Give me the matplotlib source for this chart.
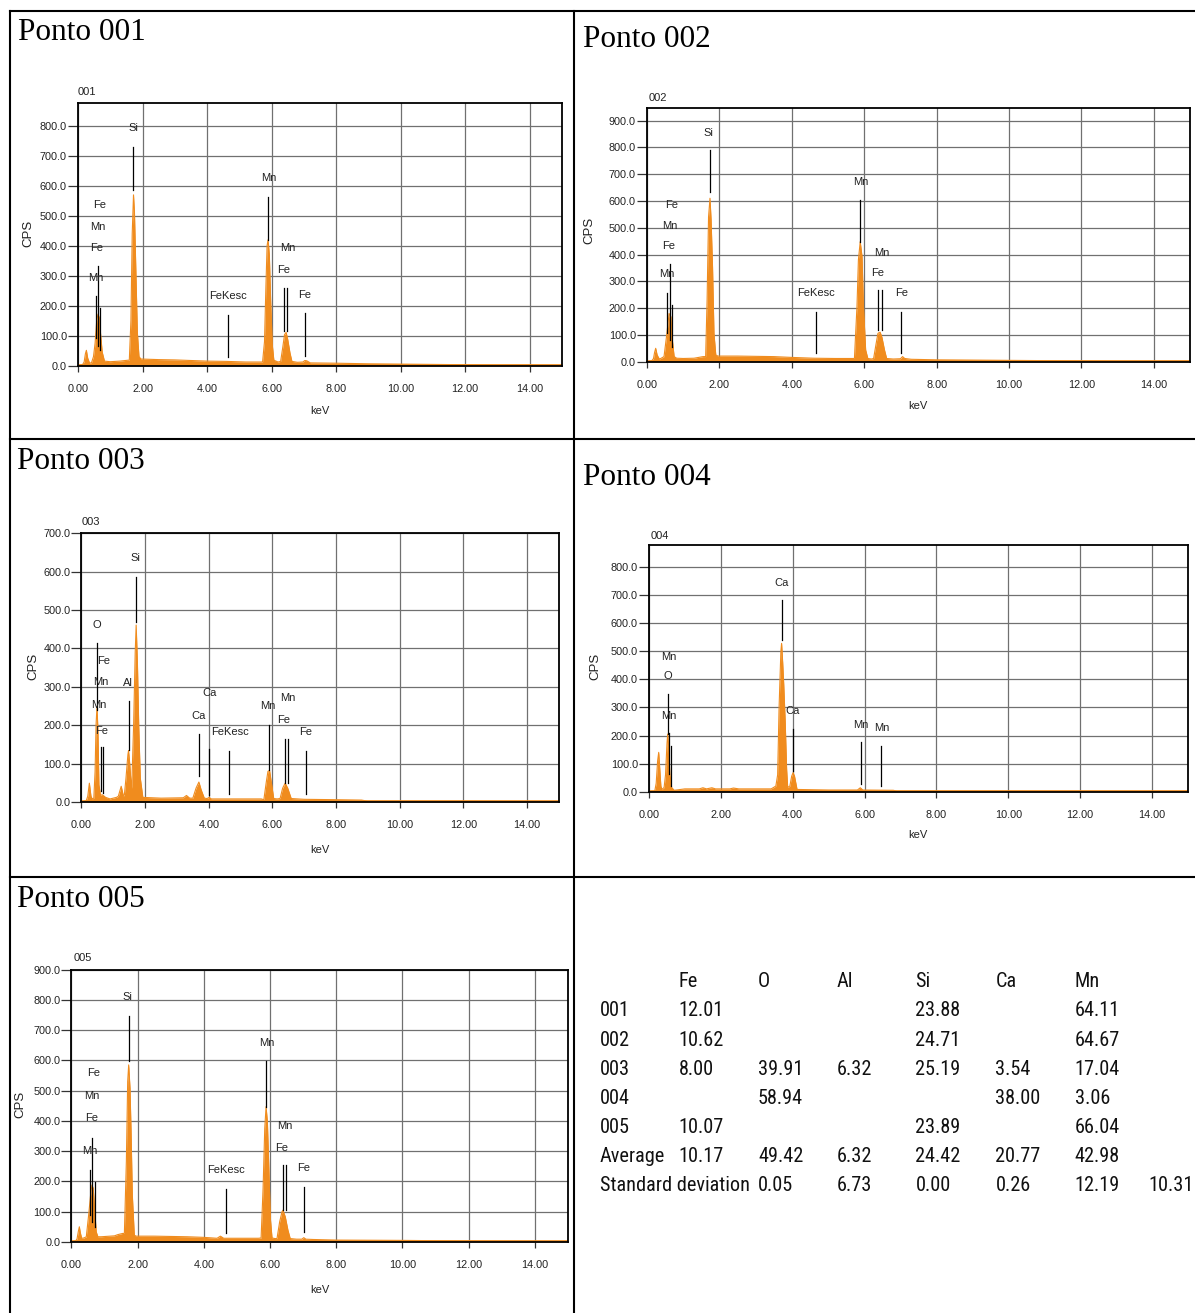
import numpy as np
import matplotlib
matplotlib.use("Agg")
import matplotlib.pyplot as plt
from matplotlib import font_manager
from matplotlib.lines import Line2D

W, H = 1195, 1313

# EDS spectra, traced as (keV, CPS) outline points
kev_001 = [0.00, 0.14, 0.19, 0.23, 0.26, 0.30, 0.36, 0.42, 0.48, 0.53, 0.58, 0.62, 0.66, 0.70,
           0.75, 0.82, 1.00, 1.30, 1.55, 1.59, 1.64, 1.68, 1.72, 1.75, 1.79, 1.84, 1.89, 1.95,
           2.50, 3.00, 3.50, 4.00, 4.60, 5.20, 5.65, 5.72, 5.78, 5.82, 5.86, 5.89, 5.93, 5.97,
           6.02, 6.07, 6.20, 6.28, 6.35, 6.40, 6.45, 6.50, 6.57, 6.63, 6.80, 6.97, 7.03, 7.09,
           7.20, 8.00, 9.00, 10.00, 11.00, 12.00, 13.00, 14.00, 15.00]
cps_001 = [0, 3, 12, 40, 51, 25, 8, 10, 30, 75, 150, 172, 160, 105,
           45, 15, 13, 15, 18, 18, 150, 440, 570, 510, 330, 110, 30, 22,
           20, 19, 17, 15, 14, 12, 12, 12, 80, 250, 400, 420, 370, 220,
           70, 18, 12, 14, 64, 103, 111, 87, 42, 14, 11, 12, 17, 16,
           9, 8, 6, 5, 4, 3, 2, 2, 1]

kev_002 = [0.00, 0.13, 0.18, 0.21, 0.24, 0.28, 0.34, 0.38, 0.47, 0.55, 0.61, 0.66, 0.70, 0.75,
           0.82, 1.00, 1.30, 1.55, 1.62, 1.66, 1.70, 1.74, 1.77, 1.81, 1.85, 1.90, 1.96, 2.50,
           3.00, 3.50, 4.00, 4.60, 5.20, 5.65, 5.73, 5.80, 5.84, 5.89, 5.94, 5.98, 6.04, 6.10,
           6.20, 6.26, 6.33, 6.38, 6.44, 6.49, 6.56, 6.62, 6.80, 7.00, 7.06, 7.12, 7.30, 8.00,
           9.00, 10.00, 11.00, 12.00, 13.00, 14.00, 15.00]
cps_002 = [0, 3, 12, 35, 50, 25, 10, 12, 19, 106, 180, 168, 81, 19,
           13, 12, 13, 19, 19, 230, 540, 610, 530, 355, 106, 25, 21, 21,
           20, 19, 16, 13, 12, 12, 12, 205, 380, 448, 392, 205, 44, 12,
           10, 12, 68, 106, 110, 91, 44, 12, 10, 11, 19, 12, 9, 7,
           6, 5, 4, 3, 2, 2, 2]

kev_003 = [0.00, 0.15, 0.20, 0.25, 0.30, 0.34, 0.39, 0.43, 0.46, 0.49, 0.52, 0.55, 0.60, 0.65,
           0.70, 0.76, 0.90, 1.10, 1.16, 1.25, 1.32, 1.35, 1.40, 1.46, 1.48, 1.52, 1.56, 1.58,
           1.64, 1.69, 1.72, 1.76, 1.80, 1.85, 1.93, 2.50, 3.20, 3.30, 3.40, 3.50, 3.60, 3.69,
           3.76, 3.86, 3.95, 4.01, 4.08, 5.00, 5.65, 5.73, 5.81, 5.86, 5.91, 5.96, 6.04, 6.15,
           6.24, 6.32, 6.40, 6.48, 6.59, 7.00, 8.00, 8.80, 9.00, 12.00, 15.00]
cps_003 = [0, 3, 15, 49, 15, 8, 10, 80, 201, 249, 184, 45, 17, 19,
           16, 12, 8, 12, 15, 41, 15, 19, 62, 123, 134, 97, 45, 36,
           200, 390, 461, 360, 200, 62, 12, 10, 11, 17, 10, 10, 36, 52,
           32, 10, 9, 12, 8, 8, 8, 6, 54, 80, 82, 54, 9, 8,
           9, 36, 49, 36, 9, 7, 6, 5, 2, 2, 1]

kev_004 = [0.00, 0.16, 0.20, 0.24, 0.27, 0.30, 0.33, 0.36, 0.42, 0.46, 0.50, 0.52, 0.55, 0.58,
           0.63, 0.70, 1.00, 1.40, 1.50, 1.60, 1.75, 1.85, 2.00, 2.25, 2.35, 2.50, 3.40, 3.53,
           3.58, 3.62, 3.67, 3.69, 3.72, 3.75, 3.79, 3.83, 3.86, 3.92, 3.97, 4.01, 4.05, 4.12,
           5.00, 5.80, 5.88, 5.95, 6.80, 6.90, 8.00, 15.00]
cps_004 = [0, 2, 30, 110, 140, 80, 20, 8, 15, 60, 170, 205, 150, 62,
           15, 5, 10, 10, 14, 10, 14, 10, 10, 10, 13, 10, 10, 20,
           60, 300, 500, 528, 460, 380, 250, 80, 15, 20, 55, 68, 55, 8,
           6, 6, 14, 6, 5, 2, 2, 1]

kev_005 = [0.00, 0.13, 0.17, 0.21, 0.24, 0.27, 0.31, 0.38, 0.45, 0.52, 0.58, 0.62, 0.66, 0.70,
           0.75, 0.80, 0.90, 1.30, 1.40, 1.55, 1.60, 1.66, 1.70, 1.73, 1.77, 1.80, 1.84, 1.90,
           1.96, 2.50, 3.00, 3.50, 4.00, 4.40, 4.50, 4.60, 5.20, 5.65, 5.73, 5.79, 5.84, 5.88,
           5.92, 5.97, 6.01, 6.06, 6.15, 6.21, 6.29, 6.36, 6.39, 6.46, 6.54, 6.61, 6.80, 6.96,
           7.02, 7.08, 7.30, 8.00, 10.00, 12.00, 14.00, 15.00]
cps_005 = [0, 3, 10, 35, 50, 30, 12, 13, 17, 88, 155, 188, 177, 110,
           33, 17, 17, 20, 24, 28, 28, 265, 530, 585, 508, 375, 155, 22,
           19, 19, 18, 17, 15, 12, 19, 12, 12, 12, 13, 177, 375, 447,
           397, 221, 77, 13, 11, 11, 66, 99, 105, 83, 39, 11, 9, 9,
           14, 9, 8, 6, 5, 3, 2, 1]

# element marker lines: (keV, bottom CPS, top CPS)
lines_001 = [(1.72, 587, 731), (5.89, 420, 564), (6.38, 114, 259), (6.47, 114, 259),
             (7.05, 33, 176), (4.65, 29, 170), (0.56, 92, 231), (0.62, 64, 331), (0.68, 53, 192)]
lines_002 = [(1.74, 635, 791), (5.89, 448, 604), (6.38, 118, 268), (6.48, 118, 268),
             (7.03, 31, 187), (4.66, 31, 187), (0.56, 106, 258), (0.64, 81, 365), (0.70, 56, 212)]
lines_003 = [(1.72, 470, 585), (0.49, 240, 414), (0.62, 28, 142), (0.68, 23, 142),
             (1.48, 136, 262), (3.68, 67, 178), (4.00, 19, 139), (4.65, 21, 134),
             (5.90, 84, 201), (6.38, 49, 165), (6.48, 49, 165), (7.04, 21, 134)]
lines_004 = [(3.69, 540, 683), (4.01, 74, 223), (0.52, 205, 346), (0.55, 62, 208),
             (0.62, 20, 164), (5.89, 26, 176), (6.47, 20, 164)]
lines_005 = [(1.73, 598, 748), (5.89, 447, 598), (6.38, 105, 254), (6.48, 105, 254),
             (7.03, 33, 180), (4.66, 28, 174), (0.56, 88, 237), (0.62, 66, 344), (0.70, 50, 199)]

# element labels: (text, keV, CPS)
labels_001 = [("Si", 1.72, 792), ("Mn", 5.90, 625), ("Mn", 6.50, 392), ("Fe", 6.37, 320),
              ("Fe", 7.02, 237), ("FeKesc", 4.65, 231), ("Fe", 0.67, 537), ("Mn", 0.62, 464),
              ("Fe", 0.59, 392), ("Mn", 0.54, 292)]
labels_002 = [("Si", 1.71, 855), ("Mn", 5.90, 670), ("Mn", 6.48, 407), ("Fe", 6.37, 330),
              ("Fe", 7.03, 255), ("FeKesc", 4.66, 255), ("Fe", 0.68, 585), ("Mn", 0.64, 508),
              ("Fe", 0.61, 432), ("Mn", 0.56, 326)]
labels_003 = [("Si", 1.70, 635), ("O", 0.49, 461), ("Fe", 0.70, 368), ("Mn", 0.62, 312),
              ("Mn", 0.54, 253), ("Fe", 0.62, 186), ("Al", 1.46, 310), ("Ca", 3.68, 225),
              ("Ca", 4.02, 284), ("FeKesc", 4.66, 182), ("Mn", 5.85, 249), ("Mn", 6.49, 271),
              ("Fe", 6.36, 214), ("Fe", 7.03, 182)]
labels_004 = [("Ca", 3.69, 743), ("Ca", 3.99, 287), ("O", 0.52, 411), ("Mn", 0.56, 480),
              ("Mn", 0.55, 271), ("Mn", 5.89, 239), ("Mn", 6.49, 227)]
labels_005 = [("Si", 1.70, 811), ("Mn", 5.89, 657), ("Mn", 6.46, 384), ("Fe", 6.36, 311),
              ("Fe", 7.02, 243), ("FeKesc", 4.66, 237), ("Fe", 0.68, 557), ("Mn", 0.63, 483),
              ("Fe", 0.60, 408), ("Mn", 0.55, 300)]

# composition table (wt %)
elements = ["Fe", "O", "Al", "Si", "Ca", "Mn"]
point_ids = ["001", "002", "003", "004", "005"]
fe = [12.01, 10.62, 8.00, None, 10.07]
o = [None, None, 39.91, 58.94, None]
al = [None, None, 6.32, None, None]
si = [23.88, 24.71, 25.19, None, 23.89]
ca = [None, None, 3.54, 38.00, None]
mn = [64.11, 64.67, 17.04, 3.06, 66.04]
average = [10.17, 49.42, 6.32, 24.42, 20.77, 42.98]
std_dev = [0.05, 6.73, 0.00, 0.26, 12.19, 10.31]

ORANGE = "#F08C1E"
SANS = "Liberation Sans"

# narrow face for the table, if one is installed
names = {f.name for f in font_manager.fontManager.ttflist}
narrow = None
for cand in ["Liberation Sans Narrow", "Arial Narrow", "Roboto Condensed", "Open Sans Condensed"]:
    if cand in names:
        narrow = cand
        break
if narrow:
    table_font = dict(family=narrow, size=14.6)
else:
    table_font = dict(family=SANS, size=12.6)


def fx(x):
    return x / W


def fy(y):
    return 1 - y / H


def draw_spectrum(fig, box, ytop, ymax, kev, cps, lines, labels, num, title, title_pos,
                  num_pos, cps_pos, kev_pos):
    x0, y0, x1, y1 = box
    ax = fig.add_axes([fx(x0), fy(y1), (x1 - x0) / W, (y1 - y0) / H])
    ax.set_xlim(0, 15)
    ax.set_ylim(0, ytop)
    ax.set_axisbelow(True)
    ax.grid(True, color="#707070", lw=0.9)

    ax.fill_between(kev, cps, 0, color=ORANGE, lw=0, zorder=2)
    ax.plot(kev, cps, color=ORANGE, lw=0.8, zorder=2)
    ax.axhline(1.5, color=ORANGE, lw=1.2, zorder=2)

    for e, lo, hi in lines:
        ax.plot([e, e], [lo, hi], color="black", lw=0.9, zorder=3)
    for txt, e, c in labels:
        ax.text(e, c, txt, ha="center", va="center", fontsize=8, family=SANS,
                color="#222222", zorder=4)

    xt = np.arange(0, 15, 2)
    ax.set_xticks(xt)
    ax.set_xticklabels([f"{v:.2f}" for v in xt], fontsize=7.8, family=SANS, color="#222222")
    yt = np.arange(0, ymax + 1, 100)
    ax.set_yticks(yt)
    ax.set_yticklabels([f"{v:.1f}" for v in yt], fontsize=7.8, family=SANS, color="#222222")
    ax.tick_params(axis="y", length=7, width=0.9, pad=1, color="#333333")
    ax.tick_params(axis="x", length=4, width=0.9, pad=9, color="#333333")
    for s in ax.spines.values():
        s.set_color("black")
        s.set_linewidth(1.3)

    fig.text(fx(num_pos[0]), fy(num_pos[1]), num, ha="center", va="center",
             fontsize=8, family=SANS, color="#222222")
    fig.text(fx(cps_pos[0]), fy(cps_pos[1]), "CPS", ha="center", va="center",
             rotation=90, fontsize=9.5, family=SANS, color="#222222")
    fig.text(fx(kev_pos[0]), fy(kev_pos[1]), "keV", ha="center", va="center",
             fontsize=8, family=SANS, color="#222222")
    fig.text(fx(title_pos[0]), fy(title_pos[1]), title, ha="left", va="baseline",
             fontsize=22.5, family="Liberation Serif")
    return ax


fig = plt.figure(figsize=(W / 100, H / 100), dpi=100)
fig.patch.set_facecolor("white")

draw_spectrum(fig, (78, 102.6, 562, 365.6), 878, 800, kev_001, cps_001, lines_001, labels_001,
              "001", "Ponto 001", (18, 40), (87, 92), (28, 233), (320, 411))
draw_spectrum(fig, (647, 107.7, 1190, 361.7), 948, 900, kev_002, cps_002, lines_002, labels_002,
              "002", "Ponto 002", (583, 47), (658, 98), (589, 230), (918, 406))
draw_spectrum(fig, (81.4, 533.3, 559, 802), 700, 700, kev_003, cps_003, lines_003, labels_003,
              "003", "Ponto 003", (17, 469), (91, 522), (33, 666), (320, 850))
draw_spectrum(fig, (649, 545, 1188, 791.7), 878, 800, kev_004, cps_004, lines_004, labels_004,
              "004", "Ponto 004", (583, 485), (660, 536), (595, 666), (918, 835))
draw_spectrum(fig, (71.4, 969.6, 568, 1241.9), 900, 900, kev_005, cps_005, lines_005, labels_005,
              "005", "Ponto 005", (17, 907), (83, 958), (20, 1104), (320, 1290))

# composition table in the last cell
col_x = [599.5, 678.5, 758, 837, 915.5, 995.5, 1074.7, 1148]
row0, step = 981.8, 29.1


def cell(x, y, s):
    fig.text(fx(x), fy(y), s, ha="left", va="center", color="#111111", **table_font)


for j, el in enumerate(elements):
    cell(col_x[j + 1], row0, el)
columns = [fe, o, al, si, ca, mn]
for i, pid in enumerate(point_ids):
    y = row0 + step * (i + 1)
    cell(col_x[0], y, pid)
    for j, col in enumerate(columns):
        if col[i] is not None:
            cell(col_x[j + 1], y, f"{col[i]:.2f}")
y = row0 + step * 6
cell(col_x[0], y, "Average")
for j, v in enumerate(average):
    cell(col_x[j + 1], y, f"{v:.2f}")
y = row0 + step * 7
cell(col_x[0], y, "Standard deviation")
for j, v in enumerate(std_dev):
    cell(col_x[j + 2], y, f"{v:.2f}")

# cell borders
frame = dict(color="black", lw=1.5, transform=fig.transFigure)
for yy in (11, 439.5, 876.5):
    fig.add_artist(Line2D([fx(10), fx(W)], [fy(yy), fy(yy)], **frame))
for xx in (10, 573.5):
    fig.add_artist(Line2D([fx(xx), fx(xx)], [fy(11), fy(H)], **frame))

fig.savefig("out.png", dpi=100)
